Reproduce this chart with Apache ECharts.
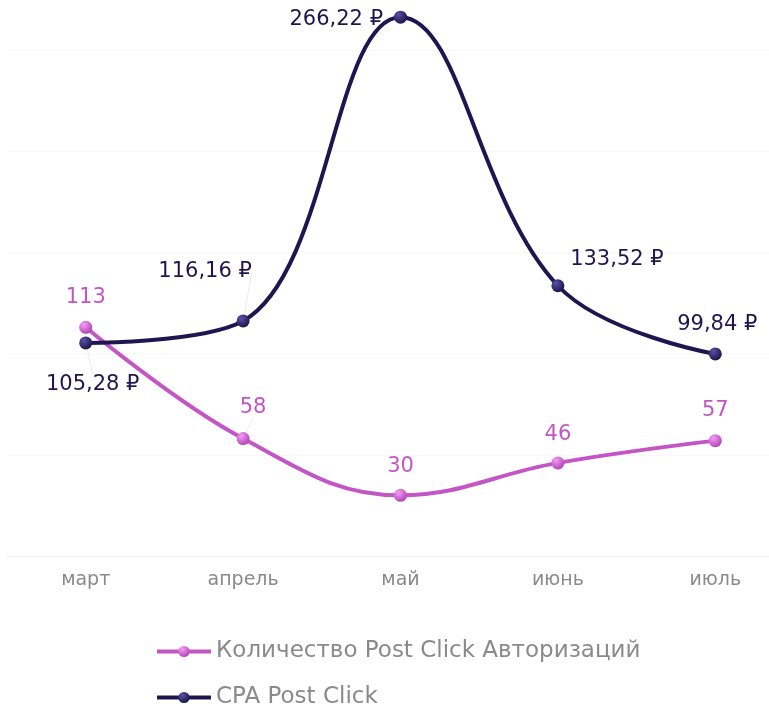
<!DOCTYPE html>
<html>
<head>
<meta charset="utf-8">
<script src="https://cdn.jsdelivr.net/npm/echarts@6/dist/echarts.min.js"></script>
<style>
html, body { margin: 0; padding: 0; background: #fff; }
#chart { width: 769px; height: 708px; }
</style>
</head>
<body>
<div id="chart"></div>
<script>
var months = ['март', 'апрель', 'май', 'июнь', 'июль'];
var authCount = [113, 58, 30, 46, 57];
var cpa = [105.28, 116.16, 266.22, 133.52, 99.84];
var seriesNames = ['Количество Post Click Авторизаций', 'CPA Post Click'];

var FONT = 'DejaVu Sans';
var pink = '#c455c4';
var navy = '#1f1650';

// nudges for the value labels (dx, dy) so they sit like in the original
var authShift = [[0, -8], [10, -9], [0, -7], [0, -6], [0, -8]];
var cpaShift = [[7, 20], [-38, -27], [-6, 2], [59, -4], [2, -7]];
var cpaPos = ['bottom', 'top', 'left', 'top', 'top'];
var authLines = [false, true, false, false, false];
var cpaLines = [true, true, false, false, false];

function ball(light, dark) {
  return new echarts.graphic.RadialGradient(0.35, 0.3, 0.75, [
    { offset: 0, color: light },
    { offset: 1, color: dark }
  ]);
}

function fmtRub(v) {
  return v.toFixed(2).replace('.', ',') + ' ₽';
}

function legendRow(name, top) {
  return {
    orient: 'horizontal',
    left: 155,
    top: top,
    padding: 0,
    itemWidth: 54,
    itemHeight: 14,
    lineStyle: { width: 4 },
    textStyle: { fontFamily: FONT, fontSize: 23, color: '#8a8a8a' },
    data: [name]
  };
}

var chart = echarts.init(document.getElementById('chart'));

var option = {
  backgroundColor: '#fff',
  animation: false,
  grid: {
    left: 7,
    right: -25,
    top: 50,
    bottom: 152,
    containLabel: false,
    outerBoundsMode: 'none'
  },
  legend: [legendRow(seriesNames[0], 640), legendRow(seriesNames[1], 686)],
  xAxis: {
    type: 'category',
    data: months,
    boundaryGap: true,
    axisLine: { lineStyle: { color: '#f2f2f2' } },
    axisTick: { lineStyle: { color: '#f2f2f2' } },
    axisLabel: { fontFamily: FONT, fontSize: 19, color: '#8a8a8a', margin: 15 }
  },
  yAxis: {
    type: 'value',
    min: 0,
    max: 250,
    interval: 50,
    axisLabel: { show: false },
    axisLine: { show: false },
    axisTick: { show: false },
    splitLine: { lineStyle: { color: '#f7f7f7' } }
  },
  series: [
    {
      name: seriesNames[0],
      type: 'line',
      smooth: 0.4,
      clip: false,
      symbol: 'circle',
      symbolSize: 13,
      lineStyle: { color: pink, width: 4 },
      itemStyle: { color: ball('#f59cf5', '#b040b4') },
      label: {
        show: true,
        position: 'top',
        distance: 5,
        fontFamily: FONT,
        fontSize: 21,
        color: pink
      },
      labelLine: { show: false, lineStyle: { color: '#ececec', width: 1 } },
      labelLayout: function (p) {
        var s = authShift[p.dataIndex];
        return { dx: s[0], dy: s[1] };
      },
      data: authCount.map(function (v, i) {
        return { value: v, labelLine: { show: authLines[i] } };
      })
    },
    {
      name: seriesNames[1],
      type: 'line',
      smooth: 0.4,
      clip: false,
      symbol: 'circle',
      symbolSize: 13,
      lineStyle: { color: navy, width: 4 },
      itemStyle: { color: ball('#5a50a8', '#1a1244') },
      label: {
        show: true,
        distance: 5,
        fontFamily: FONT,
        fontSize: 21,
        color: navy,
        formatter: function (p) { return fmtRub(p.value); }
      },
      labelLine: { show: false, lineStyle: { color: '#ececec', width: 1 } },
      labelLayout: function (p) {
        var s = cpaShift[p.dataIndex];
        return { dx: s[0], dy: s[1] };
      },
      data: cpa.map(function (v, i) {
        return { value: v, label: { position: cpaPos[i] }, labelLine: { show: cpaLines[i] } };
      })
    }
  ]
};

chart.setOption(option);
</script>
</body>
</html>
